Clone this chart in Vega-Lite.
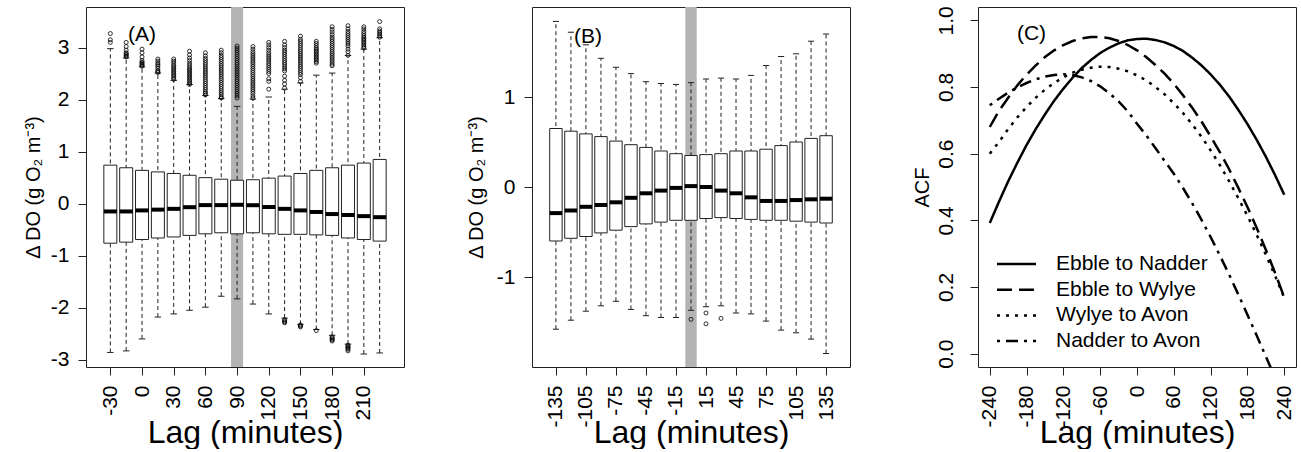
{
  "$schema": "https://vega.github.io/schema/vega-lite/v6.json",
  "background": "white",
  "padding": {"left": 22, "top": 5, "right": 0, "bottom": 0},
  "spacing": 128,
  "bounds": "flush",
  "resolve": {"legend": {"strokeDash": "independent"}, "scale": {"strokeDash": "independent"}},
  "datasets": {
    "boxA": [
      {"lag": -30, "lo": -2.86, "q1": -0.76, "med": -0.15, "q3": 0.74, "hi": 2.98},
      {"lag": -15, "lo": -2.83, "q1": -0.74, "med": -0.15, "q3": 0.69, "hi": 2.80},
      {"lag": 0, "lo": -2.60, "q1": -0.69, "med": -0.13, "q3": 0.64, "hi": 2.63},
      {"lag": 15, "lo": -2.18, "q1": -0.66, "med": -0.115, "q3": 0.61, "hi": 2.51},
      {"lag": 30, "lo": -2.12, "q1": -0.64, "med": -0.10, "q3": 0.58, "hi": 2.37},
      {"lag": 45, "lo": -2.05, "q1": -0.61, "med": -0.068, "q3": 0.545, "hi": 2.29},
      {"lag": 60, "lo": -1.99, "q1": -0.58, "med": -0.028, "q3": 0.50, "hi": 2.08},
      {"lag": 75, "lo": -1.78, "q1": -0.56, "med": -0.028, "q3": 0.47, "hi": 2.02},
      {"lag": 90, "lo": -1.83, "q1": -0.58, "med": -0.022, "q3": 0.45, "hi": 1.87},
      {"lag": 105, "lo": -1.93, "q1": -0.56, "med": -0.03, "q3": 0.46, "hi": 2.01},
      {"lag": 120, "lo": -2.12, "q1": -0.58, "med": -0.065, "q3": 0.49, "hi": 2.05},
      {"lag": 135, "lo": -2.20, "q1": -0.59, "med": -0.10, "q3": 0.53, "hi": 2.20},
      {"lag": 150, "lo": -2.32, "q1": -0.59, "med": -0.13, "q3": 0.58, "hi": 2.32},
      {"lag": 165, "lo": -2.42, "q1": -0.60, "med": -0.16, "q3": 0.64, "hi": 2.47},
      {"lag": 180, "lo": -2.53, "q1": -0.61, "med": -0.20, "q3": 0.69, "hi": 2.51},
      {"lag": 195, "lo": -2.70, "q1": -0.66, "med": -0.22, "q3": 0.74, "hi": 2.85},
      {"lag": 210, "lo": -2.89, "q1": -0.69, "med": -0.24, "q3": 0.78, "hi": 2.97},
      {"lag": 225, "lo": -2.87, "q1": -0.72, "med": -0.26, "q3": 0.85, "hi": 3.19}
    ],
    "outA": [
      {"lag": -30, "v": [3.10, 3.15, 3.27]},
      {"lag": -15, "v": [2.82, 2.84, 2.86, 2.88, 2.90, 2.95, 3.02, 3.10]},
      {"lag": 0, "v": [2.64, 2.66, 2.68, 2.70, 2.72, 2.75, 2.82, 2.90, 2.97]},
      {"lag": 15, "v": [2.52, 2.54, 2.56, 2.60, 2.64, 2.67, 2.70, 2.74, 2.78]},
      {"lag": 30, "v": [2.39, 2.42, 2.45, 2.48, 2.51, 2.54, 2.57, 2.60, 2.63, 2.66, 2.70, 2.74, 2.78]},
      {"lag": 45, "v": [2.29, 2.32, 2.35, 2.38, 2.41, 2.44, 2.47, 2.50, 2.53, 2.56, 2.59, 2.62, 2.66, 2.70, 2.75, 2.80, 2.86, 2.93]},
      {"lag": 60, "v": [2.09, 2.12, 2.15, 2.19, 2.23, 2.27, 2.31, 2.35, 2.39, 2.43, 2.47, 2.51, 2.55, 2.59, 2.63, 2.67, 2.71, 2.75, 2.79, 2.84, 2.90]},
      {"lag": 75, "v": [2.03, 2.05, 2.09, 2.13, 2.17, 2.21, 2.25, 2.29, 2.33, 2.37, 2.41, 2.45, 2.49, 2.53, 2.57, 2.61, 2.65, 2.69, 2.73, 2.77, 2.81, 2.85, 2.90, 2.95]},
      {"lag": 90, "v": [2.03, 2.07, 2.11, 2.15, 2.19, 2.23, 2.27, 2.31, 2.35, 2.39, 2.43, 2.47, 2.51, 2.55, 2.59, 2.63, 2.67, 2.71, 2.75, 2.79, 2.83, 2.87, 2.91, 2.95, 2.99, 3.03]},
      {"lag": 105, "v": [2.03, 2.07, 2.12, 2.16, 2.20, 2.24, 2.28, 2.32, 2.36, 2.40, 2.44, 2.48, 2.52, 2.56, 2.60, 2.64, 2.68, 2.72, 2.76, 2.80, 2.84, 2.88, 2.92, 2.97, 3.02]},
      {"lag": 120, "v": [2.20, 2.35, 2.40, 2.50, 2.54, 2.58, 2.62, 2.66, 2.70, 2.74, 2.78, 2.82, 2.86, 2.90, 2.95, 3.00, 3.05, 3.10]},
      {"lag": 135, "v": [2.22, 2.30, 2.37, 2.45, 2.55, 2.59, 2.63, 2.67, 2.71, 2.75, 2.79, 2.83, 2.87, 2.91, 2.95, 3.00, 3.05, 3.12, -2.23, -2.25, -2.27, -2.29]},
      {"lag": 150, "v": [2.35, 2.42, 2.48, 2.52, 2.56, 2.60, 2.64, 2.68, 2.72, 2.76, 2.80, 2.84, 2.88, 2.92, 2.96, 3.00, 3.04, 3.08, 3.12, 3.16, 3.22, -2.33, -2.35, -2.37]},
      {"lag": 165, "v": [2.70, 2.73, 2.76, 2.79, 2.82, 2.85, 2.88, 2.91, 2.94, 2.97, 3.00, 3.04, 3.08, 3.12, -2.44]},
      {"lag": 180, "v": [2.65, 2.68, 2.72, 2.76, 2.80, 2.84, 2.88, 2.92, 2.96, 3.00, 3.04, 3.08, 3.12, 3.16, 3.20, 3.25, 3.30, 3.35, 3.40, -2.56, -2.58, -2.60, -2.62, -2.64]},
      {"lag": 195, "v": [2.85, 2.92, 2.97, 3.03, 3.07, 3.11, 3.15, 3.19, 3.23, 3.27, 3.31, 3.36, 3.42, -2.72, -2.74, -2.76, -2.78, -2.80, -2.83]},
      {"lag": 210, "v": [2.99, 3.02, 3.05, 3.08, 3.11, 3.14, 3.17, 3.20, 3.23, 3.27, 3.31, 3.36, 3.40]},
      {"lag": 225, "v": [3.20, 3.23, 3.26, 3.29, 3.32, 3.36, 3.50]}
    ],
    "boxB": [
      {"lag": -135, "lo": -1.58, "q1": -0.60, "med": -0.29, "q3": 0.65, "hi": 1.84},
      {"lag": -120, "lo": -1.48, "q1": -0.57, "med": -0.26, "q3": 0.62, "hi": 1.72},
      {"lag": -105, "lo": -1.38, "q1": -0.55, "med": -0.22, "q3": 0.59, "hi": 1.58},
      {"lag": -90, "lo": -1.32, "q1": -0.51, "med": -0.20, "q3": 0.56, "hi": 1.43},
      {"lag": -75, "lo": -1.27, "q1": -0.48, "med": -0.17, "q3": 0.51, "hi": 1.33},
      {"lag": -60, "lo": -1.36, "q1": -0.44, "med": -0.12, "q3": 0.47, "hi": 1.26},
      {"lag": -45, "lo": -1.43, "q1": -0.41, "med": -0.07, "q3": 0.44, "hi": 1.17},
      {"lag": -30, "lo": -1.45, "q1": -0.39, "med": -0.04, "q3": 0.40, "hi": 1.15},
      {"lag": -15, "lo": -1.45, "q1": -0.37, "med": -0.01, "q3": 0.37, "hi": 1.14},
      {"lag": 0, "lo": -1.37, "q1": -0.37, "med": 0.01, "q3": 0.35, "hi": 1.16},
      {"lag": 15, "lo": -1.33, "q1": -0.35, "med": 0.0, "q3": 0.36, "hi": 1.20},
      {"lag": 30, "lo": -1.32, "q1": -0.34, "med": -0.04, "q3": 0.37, "hi": 1.21},
      {"lag": 45, "lo": -1.40, "q1": -0.35, "med": -0.07, "q3": 0.40, "hi": 1.20},
      {"lag": 60, "lo": -1.41, "q1": -0.36, "med": -0.115, "q3": 0.40, "hi": 1.24},
      {"lag": 75, "lo": -1.49, "q1": -0.37, "med": -0.155, "q3": 0.42, "hi": 1.35},
      {"lag": 90, "lo": -1.59, "q1": -0.37, "med": -0.155, "q3": 0.46, "hi": 1.45},
      {"lag": 105, "lo": -1.62, "q1": -0.38, "med": -0.145, "q3": 0.50, "hi": 1.48},
      {"lag": 120, "lo": -1.69, "q1": -0.39, "med": -0.137, "q3": 0.54, "hi": 1.62},
      {"lag": 135, "lo": -1.85, "q1": -0.40, "med": -0.13, "q3": 0.57, "hi": 1.70}
    ],
    "outB": [
      {"lag": 0, "v": -1.47},
      {"lag": 15, "v": -1.40},
      {"lag": 15, "v": -1.52},
      {"lag": 30, "v": -1.46}
    ],
    "acf": [
      {"s": "Ebble to Nadder",
       "lag": [-240, -225, -210, -195, -180, -165, -150, -135, -120, -105, -90, -75, -60, -45, -30, -15, 0, 15, 30, 45, 60, 75, 90, 105, 120, 135, 150, 165, 180, 195, 210, 225, 240],
       "acf": [0.392, 0.456, 0.517, 0.573, 0.626, 0.674, 0.718, 0.759, 0.795, 0.828, 0.857, 0.881, 0.902, 0.918, 0.931, 0.940, 0.944, 0.945, 0.941, 0.934, 0.923, 0.908, 0.888, 0.865, 0.838, 0.807, 0.772, 0.732, 0.689, 0.642, 0.591, 0.536, 0.477]},
      {"s": "Ebble to Wylye",
       "lag": [-240, -225, -210, -195, -180, -165, -150, -135, -120, -105, -90, -75, -60, -45, -30, -15, 0, 15, 30, 45, 60, 75, 90, 105, 120, 135, 150, 165, 180, 195, 210, 225, 240],
       "acf": [0.680, 0.728, 0.768, 0.805, 0.837, 0.865, 0.890, 0.910, 0.926, 0.938, 0.946, 0.950, 0.950, 0.946, 0.938, 0.926, 0.910, 0.890, 0.866, 0.840, 0.810, 0.775, 0.738, 0.697, 0.652, 0.605, 0.554, 0.498, 0.440, 0.378, 0.312, 0.243, 0.169]},
      {"s": "Wylye to Avon",
       "lag": [-240, -225, -210, -195, -180, -165, -150, -135, -120, -105, -90, -75, -60, -45, -30, -15, 0, 15, 30, 45, 60, 75, 90, 105, 120, 135, 150, 165, 180, 195, 210, 225, 240],
       "acf": [0.600, 0.635, 0.674, 0.709, 0.740, 0.768, 0.792, 0.812, 0.829, 0.843, 0.852, 0.858, 0.861, 0.860, 0.855, 0.847, 0.835, 0.820, 0.800, 0.778, 0.751, 0.722, 0.688, 0.651, 0.610, 0.566, 0.518, 0.467, 0.414, 0.357, 0.297, 0.234, 0.168]},
      {"s": "Nadder to Avon",
       "lag": [-240, -225, -210, -195, -180, -165, -150, -135, -120, -105, -90, -75, -60, -45, -30, -15, 0, 15, 30, 45, 60, 75, 90, 105, 120, 135, 150, 165, 180, 195, 210, 225, 240],
       "acf": [0.745, 0.765, 0.783, 0.799, 0.812, 0.823, 0.831, 0.836, 0.838, 0.836, 0.829, 0.818, 0.802, 0.781, 0.757, 0.727, 0.690, 0.655, 0.617, 0.578, 0.540, 0.497, 0.451, 0.402, 0.350, 0.295, 0.238, 0.178, 0.117, 0.055, -0.008, -0.072, -0.137]}
    ]
  },
  "hconcat": [
    {
      "width": 318,
      "height": 360,
      "layer": [
        {
          "data": {"values": [{"lag": 84.3, "lag2": 95.7}]},
          "mark": {"type": "rect", "color": "#b4b4b4"},
          "encoding": {
            "x": {"field": "lag", "type": "quantitative", "scale": {"domain": [-48.3, 243.3], "nice": false, "zero": false}, "axis": {"values": [-30, 0, 30, 60, 90, 120, 150, 180, 210], "tickCount": 100}, "title": "Lag (minutes)"},
            "x2": {"field": "lag2"}
          }
        },
        {
          "data": {"name": "boxA"},
          "mark": {"type": "rule", "color": "#222", "strokeDash": [4, 3], "strokeWidth": 1},
          "encoding": {
            "x": {"field": "lag", "type": "quantitative", "scale": {"domain": [-48.3, 243.3], "nice": false, "zero": false}, "title": "Lag (minutes)"},
            "y": {"field": "lo", "type": "quantitative", "scale": {"domain": [-3.14, 3.78], "nice": false, "zero": false}, "axis": {"values": [-3, -2, -1, 0, 1, 2, 3], "tickCount": 100, "format": "d", "titleX": -47}, "title": "Δ DO (g O₂ m⁻³)"},
            "y2": {"field": "hi"}
          }
        },
        {
          "data": {"name": "boxA"},
          "mark": {"type": "tick", "orient": "horizontal", "size": 6.5, "thickness": 1, "color": "#222", "opacity": 1},
          "encoding": {
            "x": {"field": "lag", "type": "quantitative", "scale": {"domain": [-48.3, 243.3], "nice": false, "zero": false}, "title": "Lag (minutes)"},
            "y": {"field": "lo", "type": "quantitative", "scale": {"domain": [-3.14, 3.78], "nice": false, "zero": false}, "title": "Δ DO (g O₂ m⁻³)"}
          }
        },
        {
          "data": {"name": "boxA"},
          "mark": {"type": "tick", "orient": "horizontal", "size": 6.5, "thickness": 1, "color": "#222", "opacity": 1},
          "encoding": {
            "x": {"field": "lag", "type": "quantitative", "scale": {"domain": [-48.3, 243.3], "nice": false, "zero": false}, "title": "Lag (minutes)"},
            "y": {"field": "hi", "type": "quantitative", "scale": {"domain": [-3.14, 3.78], "nice": false, "zero": false}, "title": "Δ DO (g O₂ m⁻³)"}
          }
        },
        {
          "data": {"name": "boxA"},
          "mark": {"type": "bar", "width": 13, "fill": "white", "stroke": "#222", "strokeWidth": 1},
          "encoding": {
            "x": {"field": "lag", "type": "quantitative", "scale": {"domain": [-48.3, 243.3], "nice": false, "zero": false}, "title": "Lag (minutes)"},
            "y": {"field": "q1", "type": "quantitative", "scale": {"domain": [-3.14, 3.78], "nice": false, "zero": false}, "title": "Δ DO (g O₂ m⁻³)"},
            "y2": {"field": "q3"}
          }
        },
        {
          "data": {"name": "boxA"},
          "mark": {"type": "tick", "orient": "horizontal", "size": 13, "thickness": 4, "color": "black", "opacity": 1},
          "encoding": {
            "x": {"field": "lag", "type": "quantitative", "scale": {"domain": [-48.3, 243.3], "nice": false, "zero": false}, "title": "Lag (minutes)"},
            "y": {"field": "med", "type": "quantitative", "scale": {"domain": [-3.14, 3.78], "nice": false, "zero": false}, "title": "Δ DO (g O₂ m⁻³)"}
          }
        },
        {
          "data": {"name": "outA"},
          "transform": [{"flatten": ["v"]}],
          "mark": {"type": "point", "shape": "circle", "filled": false, "size": 16, "strokeWidth": 0.8, "color": "black", "opacity": 1},
          "encoding": {
            "x": {"field": "lag", "type": "quantitative", "scale": {"domain": [-48.3, 243.3], "nice": false, "zero": false}, "title": "Lag (minutes)"},
            "y": {"field": "v", "type": "quantitative", "scale": {"domain": [-3.14, 3.78], "nice": false, "zero": false}, "title": "Δ DO (g O₂ m⁻³)"}
          }
        },
        {
          "mark": {"type": "rule", "color": "#444", "strokeWidth": 1},
          "encoding": {
            "y": {"datum": 0, "type": "quantitative", "scale": {"domain": [-3.14, 3.78], "nice": false, "zero": false}, "title": "Δ DO (g O₂ m⁻³)"}
          }
        },
        {
          "data": {"values": [{"lag": 0, "v": 3.25, "t": "(A)"}]},
          "mark": {"type": "text", "fontSize": 21, "font": "Liberation Sans", "color": "black"},
          "encoding": {
            "x": {"field": "lag", "type": "quantitative", "scale": {"domain": [-48.3, 243.3], "nice": false, "zero": false}, "title": "Lag (minutes)"},
            "y": {"field": "v", "type": "quantitative", "scale": {"domain": [-3.14, 3.78], "nice": false, "zero": false}, "title": "Δ DO (g O₂ m⁻³)"},
            "text": {"field": "t"}
          }
        }
      ]
    },
    {
      "width": 318,
      "height": 360,
      "layer": [
        {
          "data": {"values": [{"lag": -5.7, "lag2": 5.7}]},
          "mark": {"type": "rect", "color": "#b4b4b4"},
          "encoding": {
            "x": {"field": "lag", "type": "quantitative", "scale": {"domain": [-153.9, 153.9], "nice": false, "zero": false}, "axis": {"values": [-135, -105, -75, -45, -15, 15, 45, 75, 105, 135], "tickCount": 100}, "title": "Lag (minutes)"},
            "x2": {"field": "lag2"}
          }
        },
        {
          "data": {"name": "boxB"},
          "mark": {"type": "rule", "color": "#222", "strokeDash": [4, 3], "strokeWidth": 1},
          "encoding": {
            "x": {"field": "lag", "type": "quantitative", "scale": {"domain": [-153.9, 153.9], "nice": false, "zero": false}, "title": "Lag (minutes)"},
            "y": {"field": "lo", "type": "quantitative", "scale": {"domain": [-2, 2], "nice": false, "zero": false}, "axis": {"values": [-1, 0, 1], "tickCount": 100, "format": "d", "titleX": -50}, "title": "Δ DO (g O₂ m⁻³)"},
            "y2": {"field": "hi"}
          }
        },
        {
          "data": {"name": "boxB"},
          "mark": {"type": "tick", "orient": "horizontal", "size": 6.2, "thickness": 1, "color": "#222", "opacity": 1},
          "encoding": {
            "x": {"field": "lag", "type": "quantitative", "scale": {"domain": [-153.9, 153.9], "nice": false, "zero": false}, "title": "Lag (minutes)"},
            "y": {"field": "lo", "type": "quantitative", "scale": {"domain": [-2, 2], "nice": false, "zero": false}, "title": "Δ DO (g O₂ m⁻³)"}
          }
        },
        {
          "data": {"name": "boxB"},
          "mark": {"type": "tick", "orient": "horizontal", "size": 6.2, "thickness": 1, "color": "#222", "opacity": 1},
          "encoding": {
            "x": {"field": "lag", "type": "quantitative", "scale": {"domain": [-153.9, 153.9], "nice": false, "zero": false}, "title": "Lag (minutes)"},
            "y": {"field": "hi", "type": "quantitative", "scale": {"domain": [-2, 2], "nice": false, "zero": false}, "title": "Δ DO (g O₂ m⁻³)"}
          }
        },
        {
          "data": {"name": "boxB"},
          "mark": {"type": "bar", "width": 12.4, "fill": "white", "stroke": "#222", "strokeWidth": 1},
          "encoding": {
            "x": {"field": "lag", "type": "quantitative", "scale": {"domain": [-153.9, 153.9], "nice": false, "zero": false}, "title": "Lag (minutes)"},
            "y": {"field": "q1", "type": "quantitative", "scale": {"domain": [-2, 2], "nice": false, "zero": false}, "title": "Δ DO (g O₂ m⁻³)"},
            "y2": {"field": "q3"}
          }
        },
        {
          "data": {"name": "boxB"},
          "mark": {"type": "tick", "orient": "horizontal", "size": 12.4, "thickness": 4, "color": "black", "opacity": 1},
          "encoding": {
            "x": {"field": "lag", "type": "quantitative", "scale": {"domain": [-153.9, 153.9], "nice": false, "zero": false}, "title": "Lag (minutes)"},
            "y": {"field": "med", "type": "quantitative", "scale": {"domain": [-2, 2], "nice": false, "zero": false}, "title": "Δ DO (g O₂ m⁻³)"}
          }
        },
        {
          "data": {"name": "outB"},
          "mark": {"type": "point", "shape": "circle", "filled": false, "size": 16, "strokeWidth": 0.8, "color": "black", "opacity": 1},
          "encoding": {
            "x": {"field": "lag", "type": "quantitative", "scale": {"domain": [-153.9, 153.9], "nice": false, "zero": false}, "title": "Lag (minutes)"},
            "y": {"field": "v", "type": "quantitative", "scale": {"domain": [-2, 2], "nice": false, "zero": false}, "title": "Δ DO (g O₂ m⁻³)"}
          }
        },
        {
          "mark": {"type": "rule", "color": "#222", "strokeWidth": 1},
          "encoding": {
            "y": {"datum": 0, "type": "quantitative", "scale": {"domain": [-2, 2], "nice": false, "zero": false}, "title": "Δ DO (g O₂ m⁻³)"}
          }
        },
        {
          "data": {"values": [{"lag": -103, "v": 1.67, "t": "(B)"}]},
          "mark": {"type": "text", "fontSize": 21, "font": "Liberation Sans", "color": "black"},
          "encoding": {
            "x": {"field": "lag", "type": "quantitative", "scale": {"domain": [-153.9, 153.9], "nice": false, "zero": false}, "title": "Lag (minutes)"},
            "y": {"field": "v", "type": "quantitative", "scale": {"domain": [-2, 2], "nice": false, "zero": false}, "title": "Δ DO (g O₂ m⁻³)"},
            "text": {"field": "t"}
          }
        }
      ]
    },
    {
      "width": 318,
      "height": 360,
      "layer": [
        {
          "mark": {"type": "rule", "color": "#222", "strokeWidth": 1},
          "encoding": {
            "y": {"datum": 0, "type": "quantitative", "scale": {"domain": [-0.04, 1.04], "nice": false, "zero": false}, "axis": {"values": [0, 0.2, 0.4, 0.6, 0.8, 1.0], "tickCount": 100, "format": ".1f", "labelAngle": 270, "labelAlign": "center", "labelBaseline": "alphabetic", "labelPadding": 18, "titleX": -50}, "title": "ACF"}
          }
        },
        {
          "mark": {"type": "rule", "color": "#888", "strokeWidth": 1, "strokeDash": [4, 3]},
          "encoding": {
            "x": {"datum": 0, "type": "quantitative", "scale": {"domain": [-259.2, 259.2], "nice": false, "zero": false}, "axis": {"values": [-240, -180, -120, -60, 0, 60, 120, 180, 240], "tickCount": 100}, "title": "Lag (minutes)"}
          }
        },
        {
          "data": {"name": "acf"},
          "transform": [{"flatten": ["lag", "acf"]}],
          "mark": {"type": "line", "color": "black", "strokeWidth": 2.5, "clip": true},
          "encoding": {
            "x": {"field": "lag", "type": "quantitative", "scale": {"domain": [-259.2, 259.2], "nice": false, "zero": false}, "title": "Lag (minutes)"},
            "y": {"field": "acf", "type": "quantitative", "scale": {"domain": [-0.04, 1.04], "nice": false, "zero": false}, "title": "ACF"},
            "strokeDash": {
              "field": "s", "type": "nominal",
              "scale": {"domain": ["Ebble to Nadder", "Ebble to Wylye", "Wylye to Avon", "Nadder to Avon"], "range": [[1, 0], [15, 7], [3, 6], [3, 6, 12, 6]]},
              "legend": {"orient": "none", "legendX": 27.5, "legendY": 246, "title": null, "symbolType": "M-2,0H2", "symbolSize": 380, "symbolStrokeWidth": 2.5, "symbolStrokeColor": "black", "labelFontSize": 21, "labelFont": "Liberation Sans", "labelColor": "black", "labelOffset": 28.5, "symbolOffset": 0, "rowPadding": 4.7, "padding": 0, "labelLimit": 0}
            }
          }
        },
        {
          "data": {"values": [{"lag": -172, "v": 0.96, "t": "(C)"}]},
          "mark": {"type": "text", "fontSize": 21, "font": "Liberation Sans", "color": "black"},
          "encoding": {
            "x": {"field": "lag", "type": "quantitative", "scale": {"domain": [-259.2, 259.2], "nice": false, "zero": false}, "title": "Lag (minutes)"},
            "y": {"field": "v", "type": "quantitative", "scale": {"domain": [-0.04, 1.04], "nice": false, "zero": false}, "title": "ACF"},
            "text": {"field": "t"}
          }
        }
      ]
    }
  ],
  "config": {
    "font": "Liberation Sans",
    "view": {"stroke": "#222", "strokeWidth": 1},
    "axis": {
      "domain": false, "grid": false, "ticks": true, "tickColor": "#222", "tickSize": 8,
      "labelFont": "Liberation Sans", "labelFontSize": 21, "labelColor": "black",
      "titleFont": "Liberation Sans", "titleFontWeight": "normal", "titleColor": "black",
      "labelExpr": "replace(datum.label, '−', '-')",
      "labelOverlap": false, "labelFlush": false, "labelBound": false
    },
    "axisX": {"labelAngle": 270, "labelPadding": 10, "titleFontSize": 32, "titleY": 75, "titleBaseline": "alphabetic"},
    "axisY": {"labelAngle": 0, "labelPadding": 9, "titleFontSize": 20, "titleBaseline": "alphabetic"}
  }
}
